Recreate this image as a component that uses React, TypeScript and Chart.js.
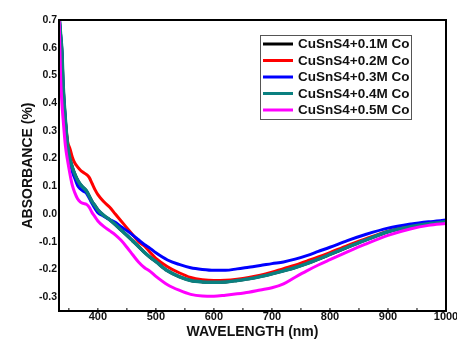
import React, { useEffect, useRef } from "react";
import { Chart, registerables } from "chart.js";

Chart.register(...registerables);

const wavelengths = [333, 336, 338, 340, 344, 348, 352, 356, 360, 365, 370, 375, 380, 385, 390, 395, 400, 410, 420, 430, 440, 450, 460, 470, 480, 490, 500, 520, 540, 560, 580, 600, 620, 640, 660, 680, 700, 720, 740, 760, 780, 800, 830, 860, 900, 940, 970, 1000];

const co01 = [0.72, 0.64, 0.586, 0.47, 0.34, 0.246, 0.199, 0.169, 0.146, 0.123, 0.106, 0.095, 0.084, 0.065, 0.045, 0.03, 0.015, -0.005, -0.02, -0.038, -0.058, -0.077, -0.097, -0.117, -0.138, -0.156, -0.172, -0.205, -0.226, -0.24, -0.245, -0.246, -0.245, -0.24, -0.234, -0.226, -0.216, -0.205, -0.193, -0.179, -0.163, -0.146, -0.12, -0.095, -0.064, -0.045, -0.035, -0.028];
const co02 = [0.50, 0.47, 0.45, 0.42, 0.33, 0.26, 0.235, 0.205, 0.185, 0.17, 0.158, 0.15, 0.143, 0.132, 0.11, 0.088, 0.07, 0.045, 0.025, 0.0, -0.025, -0.05, -0.075, -0.1, -0.115, -0.138, -0.16, -0.19, -0.212, -0.229, -0.237, -0.240, -0.239, -0.235, -0.229, -0.221, -0.21, -0.197, -0.185, -0.17, -0.155, -0.139, -0.114, -0.091, -0.062, -0.043, -0.034, -0.026];
const co03 = [0.72, 0.64, 0.58, 0.465, 0.335, 0.24, 0.19, 0.152, 0.13, 0.103, 0.09, 0.082, 0.076, 0.058, 0.038, 0.02, 0.005, -0.008, -0.02, -0.03, -0.046, -0.06, -0.076, -0.093, -0.11, -0.124, -0.14, -0.166, -0.182, -0.194, -0.2, -0.203, -0.203, -0.198, -0.192, -0.186, -0.179, -0.173, -0.163, -0.15, -0.135, -0.12, -0.096, -0.075, -0.051, -0.036, -0.028, -0.022];
const co04 = [0.72, 0.64, 0.587, 0.47, 0.34, 0.245, 0.198, 0.168, 0.145, 0.122, 0.106, 0.095, 0.084, 0.065, 0.045, 0.03, 0.015, -0.005, -0.02, -0.038, -0.058, -0.077, -0.097, -0.117, -0.138, -0.156, -0.172, -0.205, -0.226, -0.24, -0.245, -0.246, -0.245, -0.24, -0.234, -0.226, -0.216, -0.205, -0.193, -0.179, -0.163, -0.146, -0.12, -0.095, -0.064, -0.045, -0.035, -0.028];
const co05 = [0.72, 0.48, 0.40, 0.344, 0.247, 0.19, 0.143, 0.103, 0.078, 0.055, 0.043, 0.038, 0.035, 0.025, 0.005, -0.01, -0.025, -0.045, -0.06, -0.075, -0.095, -0.12, -0.147, -0.173, -0.193, -0.207, -0.225, -0.255, -0.275, -0.29, -0.296, -0.297, -0.293, -0.288, -0.282, -0.274, -0.266, -0.252, -0.228, -0.205, -0.184, -0.165, -0.137, -0.11, -0.077, -0.053, -0.041, -0.034];

const seriesLabels = ["CuSnS4+0.1M Co", "CuSnS4+0.2M Co", "CuSnS4+0.3M Co", "CuSnS4+0.4M Co", "CuSnS4+0.5M Co"];
const seriesColors = ["#000000", "#ff0000", "#0000ff", "#0a8080", "#ff00ff"];
const seriesValues = [co01, co02, co03, co04, co05];

const xTicks = [400, 500, 600, 700, 800, 900, 1000];
const yTicks = [-0.3, -0.2, -0.1, 0.0, 0.1, 0.2, 0.3, 0.4, 0.5, 0.6, 0.7];

const FONT = "'Liberation Sans', Arial, sans-serif";

const framePlugin = {
  id: "frameAndLegend",
  afterDatasetsDraw(chart: any) {
    const { ctx, chartArea } = chart;
    ctx.save();
    ctx.strokeStyle = "#000";
    ctx.lineWidth = 2;
    ctx.strokeRect(chartArea.left, chartArea.top, chartArea.right - chartArea.left, chartArea.bottom - chartArea.top);
    const xs = chart.scales.x;
    ctx.lineWidth = 1;
    for (let v = 350; v <= 1000; v += 50) {
      const px = xs.getPixelForValue(v);
      ctx.beginPath();
      ctx.moveTo(px, chartArea.bottom);
      ctx.lineTo(px, chartArea.bottom - 3);
      ctx.stroke();
    }
    const lx = 260, ly = 35, lw = 151, lh = 84;
    ctx.fillStyle = "#fff";
    ctx.fillRect(lx, ly, lw, lh);
    ctx.strokeStyle = "#555";
    ctx.lineWidth = 1;
    ctx.strokeRect(lx + 0.5, ly + 0.5, lw, lh);
    ctx.font = `bold 13.5px ${FONT}`;
    ctx.textBaseline = "middle";
    ctx.textAlign = "left";
    seriesLabels.forEach((lab, i) => {
      const y = 44 + i * 16.5;
      ctx.strokeStyle = seriesColors[i];
      ctx.lineWidth = 3;
      ctx.beginPath();
      ctx.moveTo(263, y);
      ctx.lineTo(293, y);
      ctx.stroke();
      ctx.fillStyle = "#111";
      ctx.fillText(lab, 298, y + 0.5);
    });
    ctx.restore();
  },
};

export default function App() {
  const ref = useRef<HTMLCanvasElement>(null);
  useEffect(() => {
    document.body.style.margin = "0";
    const chart = new Chart(ref.current!, {
      type: "line",
      data: {
        datasets: seriesValues.map((vals, i) => ({
          label: seriesLabels[i],
          data: wavelengths.map((w, j) => ({ x: w, y: vals[j] })),
          borderColor: seriesColors[i],
          backgroundColor: seriesColors[i],
          borderWidth: i === 3 ? 3.5 : 3,
          pointRadius: 0,
          cubicInterpolationMode: "monotone",
          fill: false,
          order: seriesValues.length - 1 - i,
        })),
      },
      options: {
        animation: false,
        responsive: false,
        layout: { padding: { left: 0, right: 11, top: 20, bottom: 0 } },
        plugins: { legend: { display: false }, tooltip: { enabled: false } },
        scales: {
          x: {
            type: "linear",
            min: 333,
            max: 1000,
            grid: { display: false, drawTicks: false },
            border: { display: false },
            afterBuildTicks: (s: any) => { s.ticks = xTicks.map((v) => ({ value: v })); },
            afterFit: (s: any) => { s.height = 30; s.paddingLeft = 0; s.paddingRight = 0; },
            ticks: { padding: -1, color: "#111", font: { family: FONT, size: 11, weight: "bold" }, maxRotation: 0, autoSkip: false, callback: (v: any) => String(v) },
            title: { display: true, text: "WAVELENGTH (nm)", color: "#111", font: { family: FONT, size: 14, weight: "bold" }, padding: { top: 0, bottom: 0 } },
          },
          y: {
            type: "linear",
            min: -0.35,
            max: 0.7,
            grid: { display: false, drawTicks: false },
            border: { display: false },
            afterBuildTicks: (s: any) => { s.ticks = yTicks.map((v) => ({ value: v })); },
            afterFit: (s: any) => { s.width = 59; s.paddingTop = 0; s.paddingBottom = 0; },
            ticks: {
              padding: 2,
              color: "#111",
              font: { family: FONT, size: 10.5, weight: "bold" },
              callback: (v: any) => Number(v).toFixed(1),
              autoSkip: false,
            },
            title: { display: true, text: "ABSORBANCE (%)", color: "#111", font: { family: FONT, size: 14, weight: "bold" }, padding: { top: 20, bottom: 0 } },
          },
        },
      },
      plugins: [framePlugin],
    } as any);
    return () => chart.destroy();
  }, []);
  return (
    <div style={{ position: "absolute", left: 0, top: 0, width: 457, height: 341, background: "#fff" }}>
      <canvas ref={ref} width={457} height={341} style={{ width: 457, height: 341, display: "block" }} />
    </div>
  );
}
